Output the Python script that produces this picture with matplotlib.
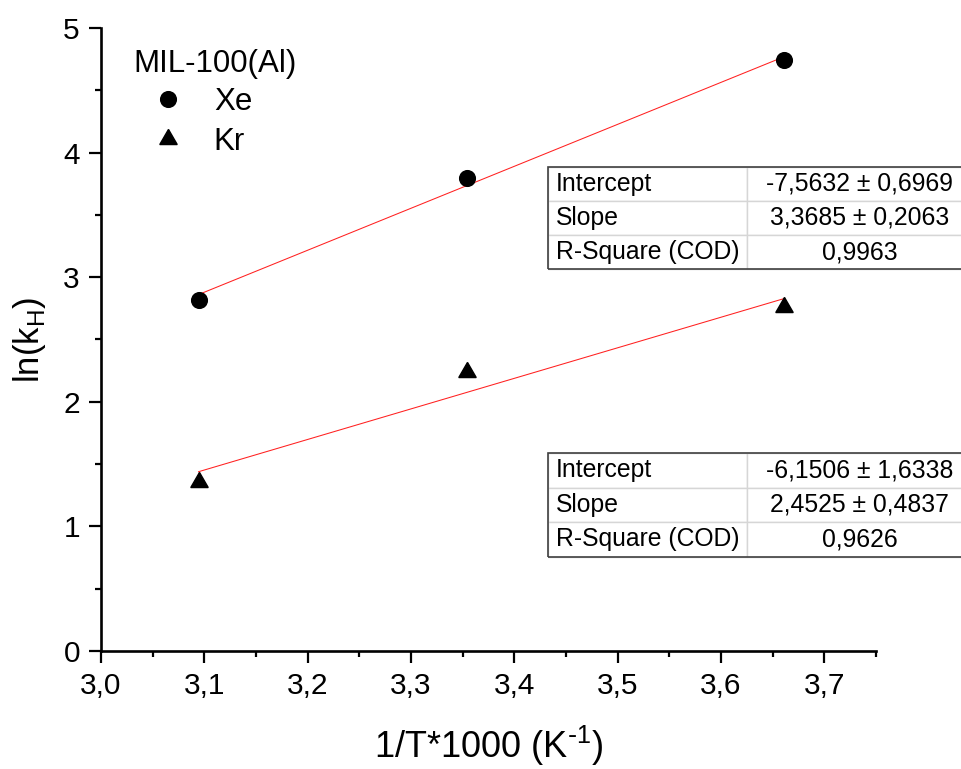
import numpy as np
import matplotlib
matplotlib.use('Agg')
import matplotlib.pyplot as plt
from matplotlib.ticker import MultipleLocator, FuncFormatter
from matplotlib.patches import Rectangle

plt.rcParams['font.family'] = ['Liberation Sans', 'DejaVu Sans']

# data: 1000/T for 323, 298, 273 K
inv_T = [3.0945, 3.354, 3.661]
ln_kH_Xe = [2.82, 3.80, 4.74]
ln_kH_Kr = [1.36, 2.24, 2.76]

# linear fit results (from Origin)
slope_Xe, icpt_Xe = 3.3685, -7.5632
slope_Kr, icpt_Kr = 2.4525, -6.1506

table_Xe = [['Intercept', '-7,5632 ± 0,6969'],
            ['Slope', '3,3685 ± 0,2063'],
            ['R-Square (COD)', '0,9963']]
table_Kr = [['Intercept', '-6,1506 ± 1,6338'],
            ['Slope', '2,4525 ± 0,4837'],
            ['R-Square (COD)', '0,9626']]

fig = plt.figure(figsize=(9.61, 7.69), dpi=100)
ax = fig.add_axes([0.105, 0.1535, 0.8065, 0.8101])

xfit = np.array([min(inv_T), max(inv_T)])
ax.plot(xfit, icpt_Xe + slope_Xe * xfit, color='#ff2020', lw=0.75, zorder=2)
ax.plot(xfit, icpt_Kr + slope_Kr * xfit, color='#ff2020', lw=0.75, zorder=2)

ax.plot(inv_T, ln_kH_Xe, 'o', color='black', ms=11.3, ls='none', label='Xe', zorder=3)
ax.plot(inv_T, ln_kH_Kr, marker=(3, 0, 0), color='black', ms=14.5, ls='none', label='Kr', zorder=3)

ax.set_xlim(3.0, 3.75)
ax.set_ylim(0, 5)
ax.spines['top'].set_visible(False)
ax.spines['right'].set_visible(False)
for s in ['left', 'bottom']:
    ax.spines[s].set_linewidth(1.9)

ax.xaxis.set_major_locator(MultipleLocator(0.1))
ax.xaxis.set_minor_locator(MultipleLocator(0.05))
ax.yaxis.set_major_locator(MultipleLocator(1))
ax.yaxis.set_minor_locator(MultipleLocator(0.5))
ax.xaxis.set_major_formatter(FuncFormatter(lambda v, p: f'{v:.1f}'.replace('.', ',')))
ax.yaxis.set_major_formatter(FuncFormatter(lambda v, p: f'{v:.0f}'))
ax.tick_params(which='major', direction='out', length=8.6, width=1.6, labelsize=21.5, pad=6.5)
ax.tick_params(which='minor', direction='out', length=4.3, width=1.6)

ax.set_xlabel('1/T*1000 (K$^{\\mathregular{\\text{-}1}}$)', fontsize=26, labelpad=17.5)
ax.set_ylabel('ln(k$_{\\mathregular{H}}$)', fontsize=25)
ax.yaxis.set_label_coords(-0.068, 0.50)

# legend: title as text, entries as legend
ax.text(0.0413, 0.9299, 'MIL-100(Al)', transform=ax.transAxes, fontsize=22.5,
        ha='left', va='baseline')
leg = ax.legend(loc='upper left', bbox_to_anchor=(0.0413, 0.906), frameon=False,
                fontsize=22.5, handlelength=2.24, handletextpad=0.35, labelspacing=0.34,
                borderpad=0, borderaxespad=0)


def fit_table(rows, bbox):
    tbl = ax.table(cellText=rows, colWidths=[0.468, 0.532], bbox=bbox, zorder=5)
    tbl.auto_set_font_size(False)
    tbl.set_fontsize(17.8)
    tbl.set_clip_on(False)
    for (r, c), cell in tbl.get_celld().items():
        cell.set_edgecolor('#d6d6d6')
        cell.set_linewidth(1.0)
        cell.set_facecolor('white')
        if c == 0:
            cell._loc = 'left'
            cell.PAD = 0.04
            cell.get_text().set_ha('left')
        else:
            cell._loc = 'center'
            cell.get_text().set_ha('center')
    ax.add_patch(Rectangle((bbox[0], bbox[1]), bbox[2], bbox[3], transform=ax.transAxes,
                           fill=False, edgecolor='#404040', lw=1.2, clip_on=False, zorder=6))
    return tbl


fit_table(table_Xe, [0.5764, 0.6127, 0.5484, 0.1647])
fit_table(table_Kr, [0.5764, 0.1514, 0.5484, 0.1660])

fig.savefig('out.png', dpi=100)
